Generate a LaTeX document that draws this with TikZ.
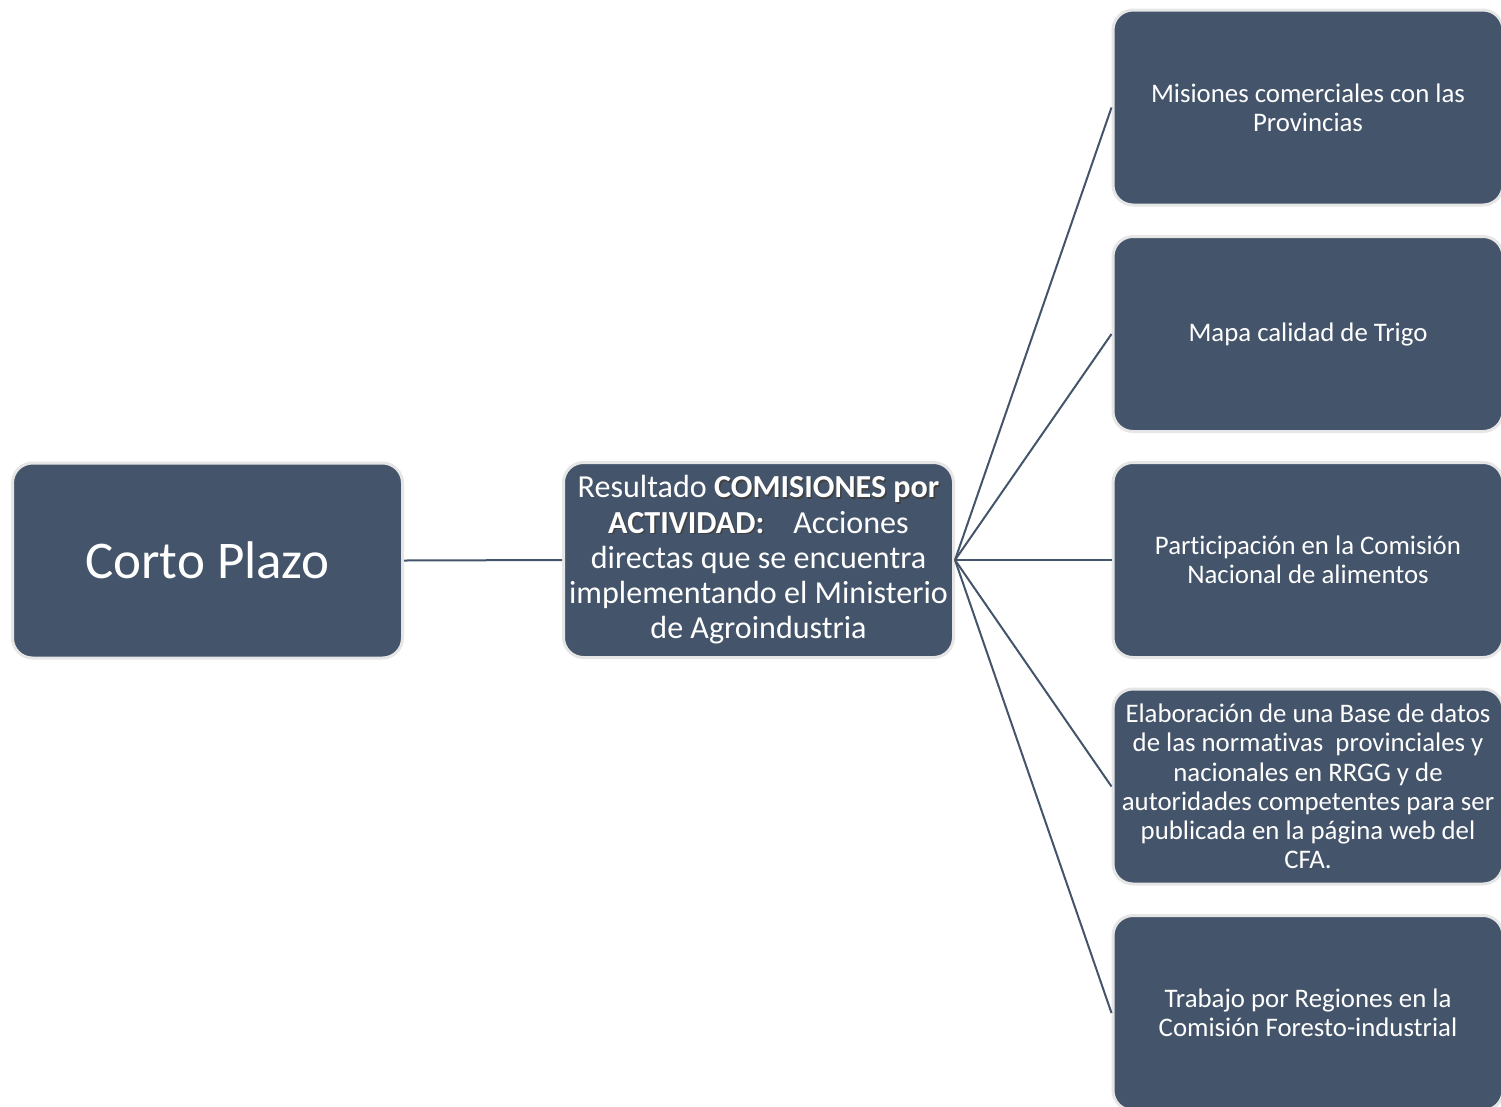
\documentclass[tikz,border=0pt]{standalone}
\usepackage{fontspec}
\setmainfont[Ligatures={NoCommon,NoRequired,NoContextual},Contextuals=NoAlternate]{Carlito}
\definecolor{boxfill}{HTML}{44546A}
\definecolor{boxedge}{HTML}{E6E6E6}
\newcommand\shd[1]{\makebox[0pt][l]{\kern1.5pt\raisebox{-1.5pt}{\color{black!75}#1}}#1}
\begin{document}
\begin{tikzpicture}[x=1pt,y=-1pt,
  card/.style={draw=boxedge,line width=3pt,fill=boxfill,rounded corners=20pt,
    minimum width=390pt,minimum height=195pt,inner sep=0pt,text=white,align=center},
  small/.style={font=\fontsize{26.8}{29.2}\selectfont},
  link/.style={draw=boxfill,line width=2pt}]
\useasboundingbox (0,0) rectangle (1501,1106);
\clip (0,0) rectangle (1501,1106);
\node[card,font=\fontsize{53}{58}\selectfont] (cp) at (207.5,560.5) {Corto Plazo};
\node[card,font=\fontsize{32.1}{35.3}\selectfont] (mid) at (758.5,560) {Resultado \textbf{\shd{COMISIONES por}}\\\textbf{\shd{ACTIVIDAD:}}\hspace{0.9em}Acciones\\directas que se encuentra\\implementando el Ministerio\\de Agroindustria};
\node[card,small] (r1) at (1308,107.5) {Misiones comerciales con las\\Provincias};
\node[card,small] (r2) at (1308,334) {Mapa calidad de Trigo};
\node[card,small] (r3) at (1308,560) {Participación en la Comisión\\Nacional de alimentos};
\node[card,small] (r4) at (1308,786.5) {Elaboración de una Base de datos\\de las normativas\ \ provinciales y\\nacionales en RRGG y de\\autoridades competentes para ser\\publicada en la página web del\\CFA.};
\node[card,small] (r5) at (1308,1013) {Trabajo por Regiones en la\\Comisión Foresto-industrial};
\draw[link] (cp.east) -- (mid.west);
\foreach \r in {r1,r2,r3,r4,r5}{\draw[link] (mid.east) -- (\r.west);}
\end{tikzpicture}
\end{document}
